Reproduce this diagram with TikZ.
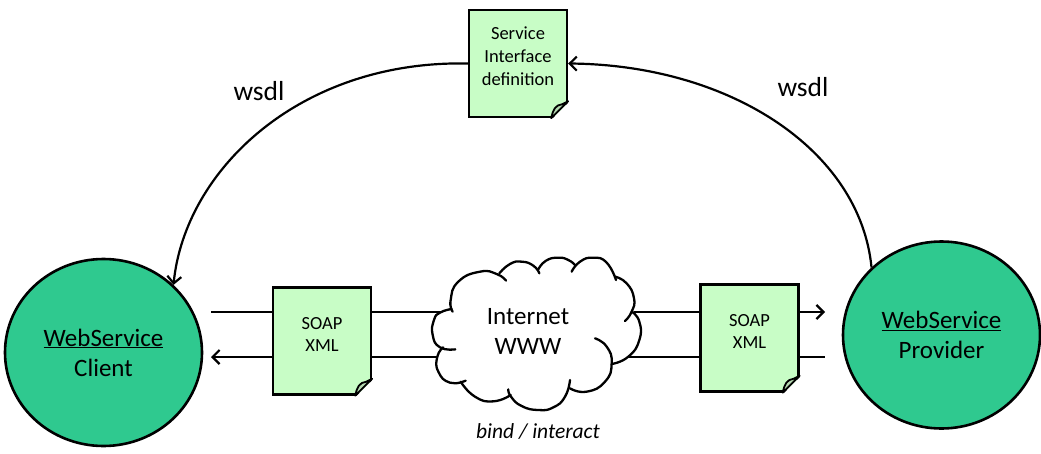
\documentclass[tikz,border=0pt]{standalone}
\usepackage{fontspec}
\setmainfont{Carlito}
\usetikzlibrary{arrows.meta,shapes.geometric,calc}
\definecolor{circ}{HTML}{2FC98F}
\definecolor{docg}{HTML}{C8FDC6}
\definecolor{foldg}{HTML}{B4D8B0}
\tikzset{
  conn/.style={line width=2.2pt,black},
  tip/.style={-{Straight Barb[length=7pt,width=14pt,line width=2.2pt]}},
  peer/.style={ellipse,draw=black,line width=2.6pt,fill=circ,inner sep=0pt,minimum width=197pt,minimum height=187pt,align=center,font=\fontsize{25}{30}\selectfont},
  sheet/.style={rectangle,draw=black,line width=2.4pt,fill=docg,inner sep=0pt,minimum width=98pt,minimum height=107pt},
  sheettxt/.style={align=center,inner sep=0pt,yshift=#1},
  lobe/.style={line width=2.3pt,black,line cap=round},
  lbl/.style={font=\fontsize{27.5}{30}\selectfont,inner sep=0pt}
}
\newcommand{\docfold}[1]{%
  \fill[white] ($(#1.south east)+(-17,1.6)$) -- ($(#1.south east)+(1.6,1.6)$) -- ($(#1.south east)+(1.6,-17)$) -- cycle;
  \draw[line width=1.8pt,line join=round,fill=foldg] ($(#1.south east)+(-17,0)$) .. controls ($(#1.south east)+(-15,-9)$) and ($(#1.south east)+(-13,-13)$) .. ($(#1.south east)+(-6,-14)$) -- ($(#1.south east)+(0,-17)$) -- cycle;
}
\begin{document}
\begin{tikzpicture}[x=1pt,y=-1pt]
\useasboundingbox[fill=white] (0,0) rectangle (1041,453);
\node[peer,yshift=-1pt] (client) at (103.5,351.5) {\underline{WebService}\\Client};
\node[peer] (provider) at (941.5,335) {\underline{WebService}\\Provider};
\node[sheet,label={[sheettxt=7pt,font=\fontsize{18.5}{23}\selectfont]center:{Service\\Interface\\definition}}] (iface) at (518,63.5) {};
\node[sheet,label={[sheettxt=7pt,font=\fontsize{18.5}{22}\selectfont]center:{SOAP\\XML}}] (soapL) at (322,341) {};
\node[sheet,label={[sheettxt=7pt,font=\fontsize{18.5}{22}\selectfont]center:{SOAP\\XML}}] (soapR) at (749.5,338) {};
\coordinate (aL) at (211,312);
\coordinate (bL) at (211,357);
\coordinate (aR) at (825,312);
\coordinate (bR) at (825,357);
% connectors
\draw[conn] (aL) -- (aL -| soapL.west);
\draw[conn,tip] (bL -| soapL.west) -- (bL);
\draw[conn] (aL -| soapL.east) -- (aL -| soapR.west);
\draw[conn] (bL -| soapL.east) -- (bL -| soapR.west);
\draw[conn,tip] (aR -| soapR.east) -- (aR);
\draw[conn] (bR -| soapR.east) -- (bR);
\draw[conn,tip] (iface.west) .. controls (300,60) and (185,170) .. (client.44);
\draw[conn,tip] (provider.136) .. controls (860,150) and (730,65) .. (iface.east);
\docfold{iface}
\docfold{soapL}
\docfold{soapR}
% cloud
\begin{scope}[shift={(430,240)},scale=1/3]
\def\la{(68,215) (62,180) (85,125) (150,95) (200,102) (228,122)}
\def\lb{(208,100) (240,72) (275,65) (310,77) (328,100)}
\def\lc{(325,88) (348,62) (385,53) (415,60) (435,75)}
\def\ld{(425,95) (450,65) (490,53) (530,68) (558,120)}
\def\le{(555,110) (590,130) (612,175) (605,215) (585,243)}
\def\lf{(605,215) (628,245) (628,300) (595,350) (545,372)}
\def\lg{(495,295) (530,320) (545,370) (525,425) (470,455) (420,445)}
\def\lh{(420,420) (405,470) (370,502) (325,510) (275,498) (243,470) (235,448)}
\def\li{(242,465) (190,484) (135,470) (92,425)}
\def\lj{(107,422) (60,428) (25,395) (22,350) (40,322)}
\def\lk{(76,328) (30,322) (8,285) (12,240) (30,218) (65,207)}
\fill[white] (68,215) -- (150,95) -- (328,90) -- (500,60) -- (600,170) -- (625,270) -- (540,370) -- (490,450) -- (325,505) -- (190,480) -- (60,425) -- (25,350) -- (10,270) -- cycle;
\foreach \p in {\la,\lb,\lc,\ld,\le,\lf,\lg,\lh,\li,\lj,\lk}{
  \fill[white] plot[smooth,tension=0.9] coordinates {\p};
}
\foreach \p in {\la,\lb,\lc,\ld,\le,\lf,\lg,\lh,\li,\lj,\lk}{
  \draw[lobe] plot[smooth,tension=0.9] coordinates {\p};
}
\end{scope}
\node[inner sep=0pt,align=center,font=\fontsize{25}{30}\selectfont] (cloud) at (528,331) {Internet\\WWW};
\node[lbl] (wl) at (259,91) {wsdl};
\node[lbl] (wr) at (803,87) {wsdl};
\node[inner sep=0pt,font=\itshape\fontsize{21.5}{24}\selectfont] (bind) at (538,431) {bind / interact};
\end{tikzpicture}
\end{document}
